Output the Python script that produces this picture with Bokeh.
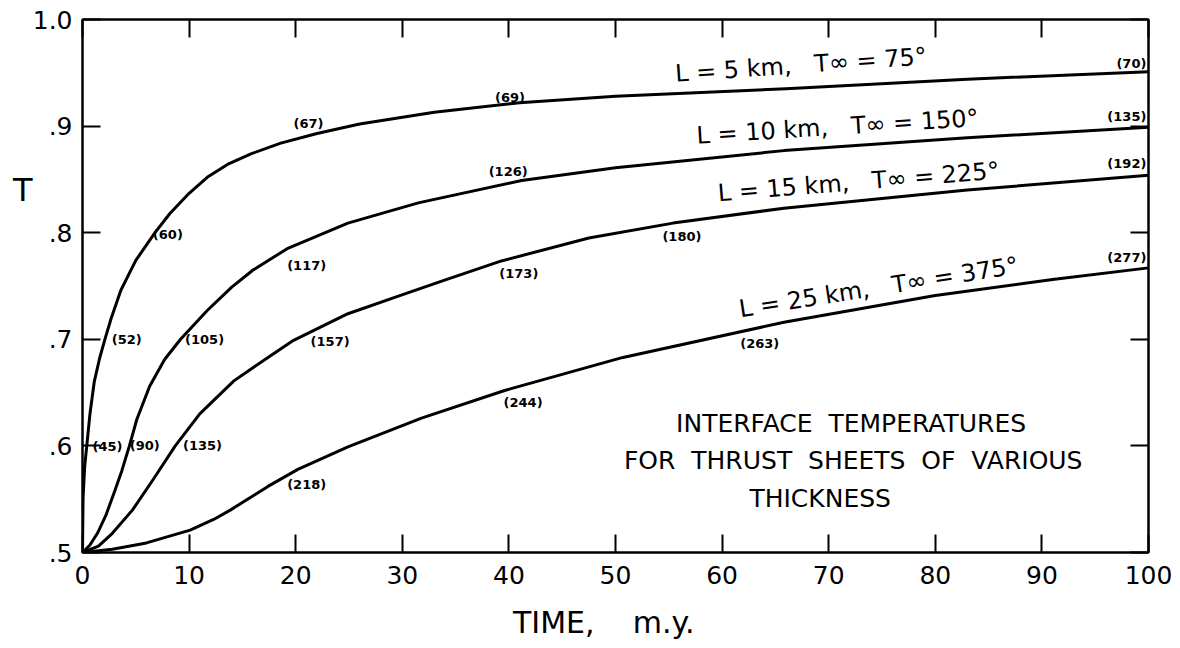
from bokeh.plotting import figure
from bokeh.models import Range1d, LinearAxis, FixedTicker, CustomJSTickFormatter
from bokeh.core.properties import value
from bokeh.embed import file_html
from bokeh.resources import INLINE
import math

# ---- data (time in m.y., normalized interface temperature T) ----
x_l5 = [0, 0.05, 0.2, 0.4, 0.7, 1.1, 1.6, 2.1, 2.7, 3.6, 5, 6.8, 8.2, 10, 11.7, 13.6, 15.8, 18.6, 22, 26, 33, 41, 50, 66, 83, 100]
t_l5 = [0.5, 0.55, 0.58, 0.6, 0.63, 0.66, 0.682, 0.7, 0.72, 0.746, 0.774, 0.8, 0.818, 0.837, 0.852, 0.864, 0.874, 0.884, 0.893, 0.902, 0.913, 0.922, 0.928, 0.935, 0.944, 0.951]

x_l10 = [0, 0.7, 1.4, 2.2, 3.0, 3.7, 4.4, 5.1, 6.3, 7.7, 9.2, 11.7, 14.0, 16, 19.2, 24.9, 31.5, 41.2, 50, 65.8, 83, 100]
t_l10 = [0.5, 0.507, 0.518, 0.535, 0.557, 0.577, 0.6, 0.625, 0.656, 0.681, 0.7, 0.727, 0.749, 0.765, 0.785, 0.809, 0.828, 0.849, 0.861, 0.877, 0.889, 0.899]

x_l15 = [0, 1.5, 2.8, 4.7, 6.6, 8.7, 11, 14.2, 17.4, 19.8, 24.9, 29.9, 33.7, 39.3, 47.5, 55.4, 65.8, 83, 100]
t_l15 = [0.5, 0.506, 0.518, 0.540, 0.568, 0.6, 0.63, 0.661, 0.683, 0.699, 0.724, 0.7415, 0.7545, 0.7735, 0.795, 0.809, 0.823, 0.84, 0.854]

x_l25 = [0, 2.8, 6, 10.1, 12.3, 13.9, 17.4, 20.2, 24.9, 31.8, 39.6, 50.7, 65.8, 80, 91, 100]
t_l25 = [0.5, 0.503, 0.509, 0.521, 0.531, 0.54, 0.562, 0.578, 0.599, 0.626, 0.652, 0.683, 0.716, 0.741, 0.756, 0.767]

x_ticks = [0, 10, 20, 30, 40, 50, 60, 70, 80, 90, 100]
y_ticks = [0.5, 0.6, 0.7, 0.8, 0.9, 1.0]

# temperature annotations (deg) along the curves
note_text = ["(45)", "(90)", "(135)", "(52)", "(105)", "(157)", "(218)", "(60)", "(117)",
             "(67)", "(69)", "(126)", "(173)", "(180)", "(244)", "(263)"]
note_x = [0.94, 4.43, 9.43, 2.74, 9.62, 21.4, 19.2, 6.6, 19.2, 19.8, 38.7, 38.1, 39.1, 54.4, 39.5, 61.7]
note_t = [0.599, 0.6, 0.6, 0.7, 0.7, 0.698, 0.564, 0.798, 0.769, 0.902, 0.927, 0.857, 0.762, 0.796, 0.641, 0.696]

end_text = ["(70)", "(135)", "(192)", "(277)"]
end_x = [99.8, 99.8, 99.8, 99.8]
end_t = [0.959, 0.909, 0.865, 0.777]

NB = "\u00a0"
curve_label_text = ["L = 5 km," + NB * 3 + "T\u221e = 75\u00b0",
                    "L = 10 km," + NB * 3 + "T\u221e = 150\u00b0",
                    "L = 15 km," + NB * 3 + "T\u221e = 225\u00b0",
                    "L = 25 km," + NB * 3 + "T\u221e = 375\u00b0"]
curve_label_x = [55.6, 57.6, 59.6, 61.6]
curve_label_t = [0.949, 0.891, 0.837, 0.728]
curve_label_deg = [4.0, 3.6, 4.6, 9.0]

desc_lines = ["INTERFACE" + NB * 2 + "TEMPERATURES",
              "FOR" + NB * 2 + "THRUST" + NB * 2 + "SHEETS" + NB * 2 + "OF" + NB * 2 + "VARIOUS",
              "THICKNESS"]
desc_x = [72.1, 72.3, 69.2]
desc_t = [0.621, 0.586, 0.551]

y_label = "T"
y_label_pos = 0.84
x_label = "TIME," + NB * 4 + "m.y."
x_label_pos = 48.9

FONT = "DejaVu Sans"

p = figure(width=1172, height=648, output_backend="svg", toolbar_location=None,
           x_range=Range1d(0, 100), y_range=Range1d(0.5, 1.0),
           min_border_left=82, min_border_right=24, min_border_top=19, min_border_bottom=96)
p.xgrid.visible = False
p.ygrid.visible = False
p.outline_line_color = "black"
p.outline_line_width = 2
p.background_fill_color = "white"
p.border_fill_color = "white"

top_ax = LinearAxis()
right_ax = LinearAxis()
p.add_layout(top_ax, "above")
p.add_layout(right_ax, "right")

def style_axis(ax, ticks, show):
    ax.ticker = FixedTicker(ticks=ticks)
    ax.major_tick_in = 18
    ax.major_tick_out = 0
    ax.minor_tick_in = 0
    ax.minor_tick_out = 0
    ax.major_tick_line_width = 2
    ax.major_tick_line_color = "black"
    ax.axis_line_width = 2
    ax.axis_line_color = "black"
    ax.axis_label = None
    ax.major_label_text_font = FONT
    ax.major_label_text_font_size = "25px"
    ax.major_label_text_color = "black"
    if not show:
        ax.formatter = CustomJSTickFormatter(code="return '';")
        ax.major_label_standoff = 0

style_axis(p.below[0], x_ticks, True)
style_axis(top_ax, x_ticks, False)
style_axis(p.left[0], y_ticks, True)
style_axis(right_ax, y_ticks, False)
p.below[0].major_label_standoff = 13
p.left[0].major_label_standoff = 10
p.left[0].formatter = CustomJSTickFormatter(
    code="return tick >= 1 ? tick.toFixed(1) : tick.toFixed(1).slice(1);")

# axis titles drawn as single tick labels of outer axes so they sit where the original has them
def title_axis(ticks, text, size, standoff):
    ax = LinearAxis(ticker=FixedTicker(ticks=ticks),
                    formatter=CustomJSTickFormatter(code="return %r;" % text))
    ax.major_tick_in = 0
    ax.major_tick_out = 0
    ax.minor_tick_in = 0
    ax.minor_tick_out = 0
    ax.major_tick_line_color = None
    ax.minor_tick_line_color = None
    ax.axis_line_color = None
    ax.major_label_text_font = FONT
    ax.major_label_text_font_size = size
    ax.major_label_text_color = "black"
    ax.major_label_standoff = standoff
    return ax

p.add_layout(title_axis([y_label_pos], y_label, "32px", -3), "left")
p.add_layout(title_axis([x_label_pos], x_label, "30px", 18), "below")

for xs, ts in [(x_l5, t_l5), (x_l10, t_l10), (x_l15, t_l15), (x_l25, t_l25)]:
    p.line(xs, ts, line_color="black", line_width=3, line_join="round", line_cap="round")

p.text(note_x, note_t, text=note_text, text_font=value(FONT), text_font_size="13px",
       text_font_style="bold", text_align="left", text_baseline="middle", text_color="black")
p.text(end_x, end_t, text=end_text, text_font=value(FONT), text_font_size="13px",
       text_font_style="bold", text_align="right", text_baseline="middle", text_color="black")

p.text(curve_label_x, curve_label_t, text=curve_label_text,
       angle=[math.radians(d) for d in curve_label_deg],
       text_font=value(FONT), text_font_size="24px", text_align="left",
       text_baseline="alphabetic", text_color="black")

p.text(desc_x, desc_t, text=desc_lines, text_font=value(FONT), text_font_size="25px",
       text_align="center", text_baseline="alphabetic", text_color="black")

open("out.html", "w").write(file_html(p, INLINE))
